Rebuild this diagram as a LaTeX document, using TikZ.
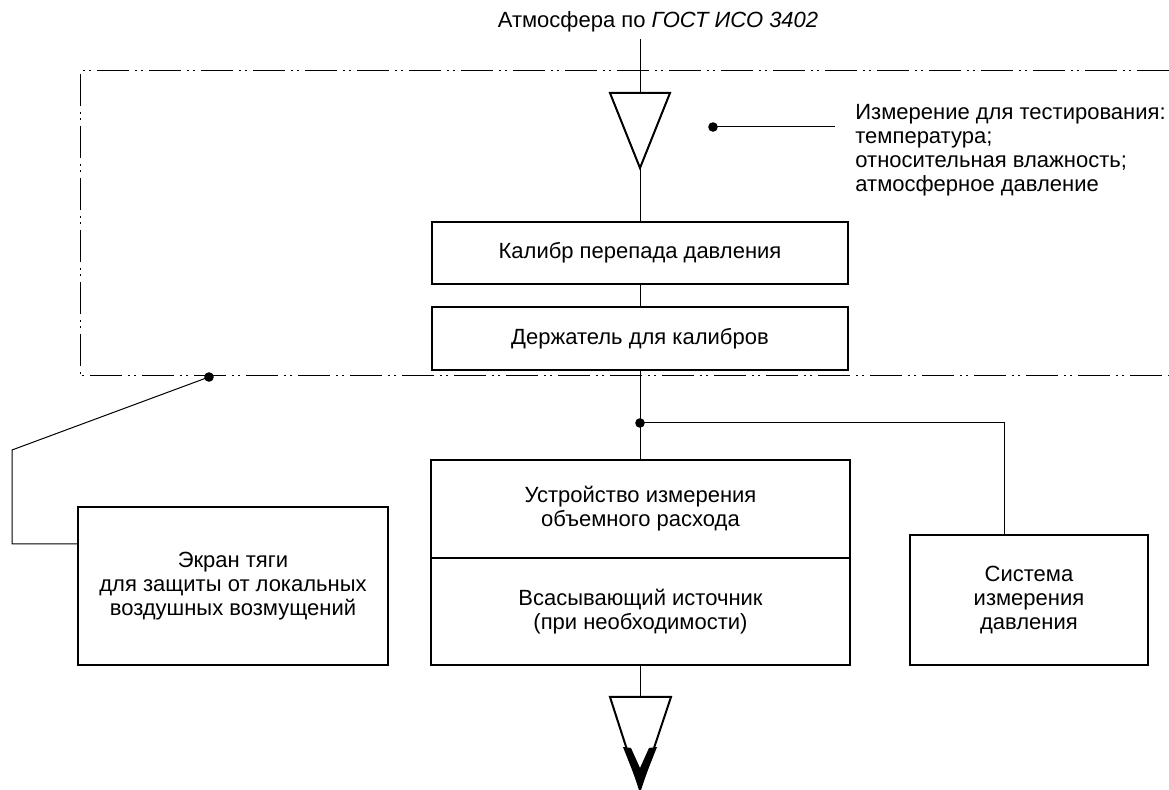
\documentclass[tikz,border=0pt]{standalone}
\usepackage{fontspec}
\setmainfont{Liberation Sans}
\begin{document}
\begin{tikzpicture}[x=0.5pt,y=-0.5pt,
        box/.style={draw,line width=1pt,align=center,inner sep=0pt},
        conn/.style={line width=0.5pt},
        frame/.style={line width=0.5pt,dash pattern=on 16pt off 3pt on 1pt off 2pt on 1pt off 3pt},
        tri/.style={line width=1pt,line join=miter},
        every node/.style={font=\fontsize{11}{12}\selectfont}]
        \useasboundingbox (0,0) rectangle (1169,790);
        % test zone
        \draw[frame] (1169,71) -- (80,71) -- (80,376) -- (1169,376);
        \node (atmtext) at (658,22) {Атмосфера по \textit{ГОСТ ИСО 3402}};
        % intake
        \coordinate (intop) at (640,93);
        \coordinate (intip) at (640,168);
        \draw[tri] (610,93) -- (670,93) -- (intip) -- cycle;
        \node[box, minimum width=208pt, minimum height=31pt] (kalibr) at (640,253) {Калибр перепада давления};
        \node[box, minimum width=208pt, minimum height=31.5pt] (holder) at (640,338.5) {Держатель для калибров};
        \node[box, minimum width=209.5pt, minimum height=49pt] (meter) at (640.5,509) {Устройство измерения\\объемного расхода};
        \node[box, minimum width=209.5pt, minimum height=53.5pt] (suction) at (640.5,611.5) {Всасывающий источник\\(при необходимости)};
        \node[box, minimum width=155pt, minimum height=79pt] (screen) at (233,586) {Экран тяги\\для защиты от локальных\\воздушных возмущений};
        \node[box, minimum width=119pt, minimum height=65pt] (press) at (1029,600) {Система\\измерения\\давления};
        \node[anchor=north west, align=left, inner sep=0pt] (meas) at (855,104) {Измерение для тестирования:\\температура;\\относительная влажность;\\атмосферное давление};
        % connectors
        \draw[conn] (atmtext.south -| intop) -- (intop);
        \draw[conn] (intip) -- (kalibr.north);
        \draw[conn] (kalibr.south) -- (holder.north);
        \draw[conn] (holder.south) -- (meter.north -| holder.south);
        \coordinate (junc) at (640,423);
        \draw[conn] (junc) -| ([xshift=-12.5pt]press.north);
        \fill (junc) circle(2.4pt);
        \coordinate (measdot) at (713,127);
        \coordinate (measend) at (835,127);
        \draw[conn] (measdot) -- (measend);
        \fill (measdot) circle(2.4pt);
        \coordinate (scrdot) at (209,377);
        \coordinate (bend) at (12,450);
        \draw[conn] (scrdot) -- (bend) |- ([yshift=21pt]screen.west);
        \fill (scrdot) circle(2.4pt);
        % outlet
        \coordinate (outtop) at (640,697);
        \draw[conn] (suction.south -| outtop) -- (outtop);
        \draw[tri] (610,697) -- (671,697) -- (640,790) -- cycle;
        \fill (623,747) -- (640,790) -- (657,747) -- (649,748) -- (640,768) -- (631,748) -- cycle;
    \end{tikzpicture}
\end{document}
